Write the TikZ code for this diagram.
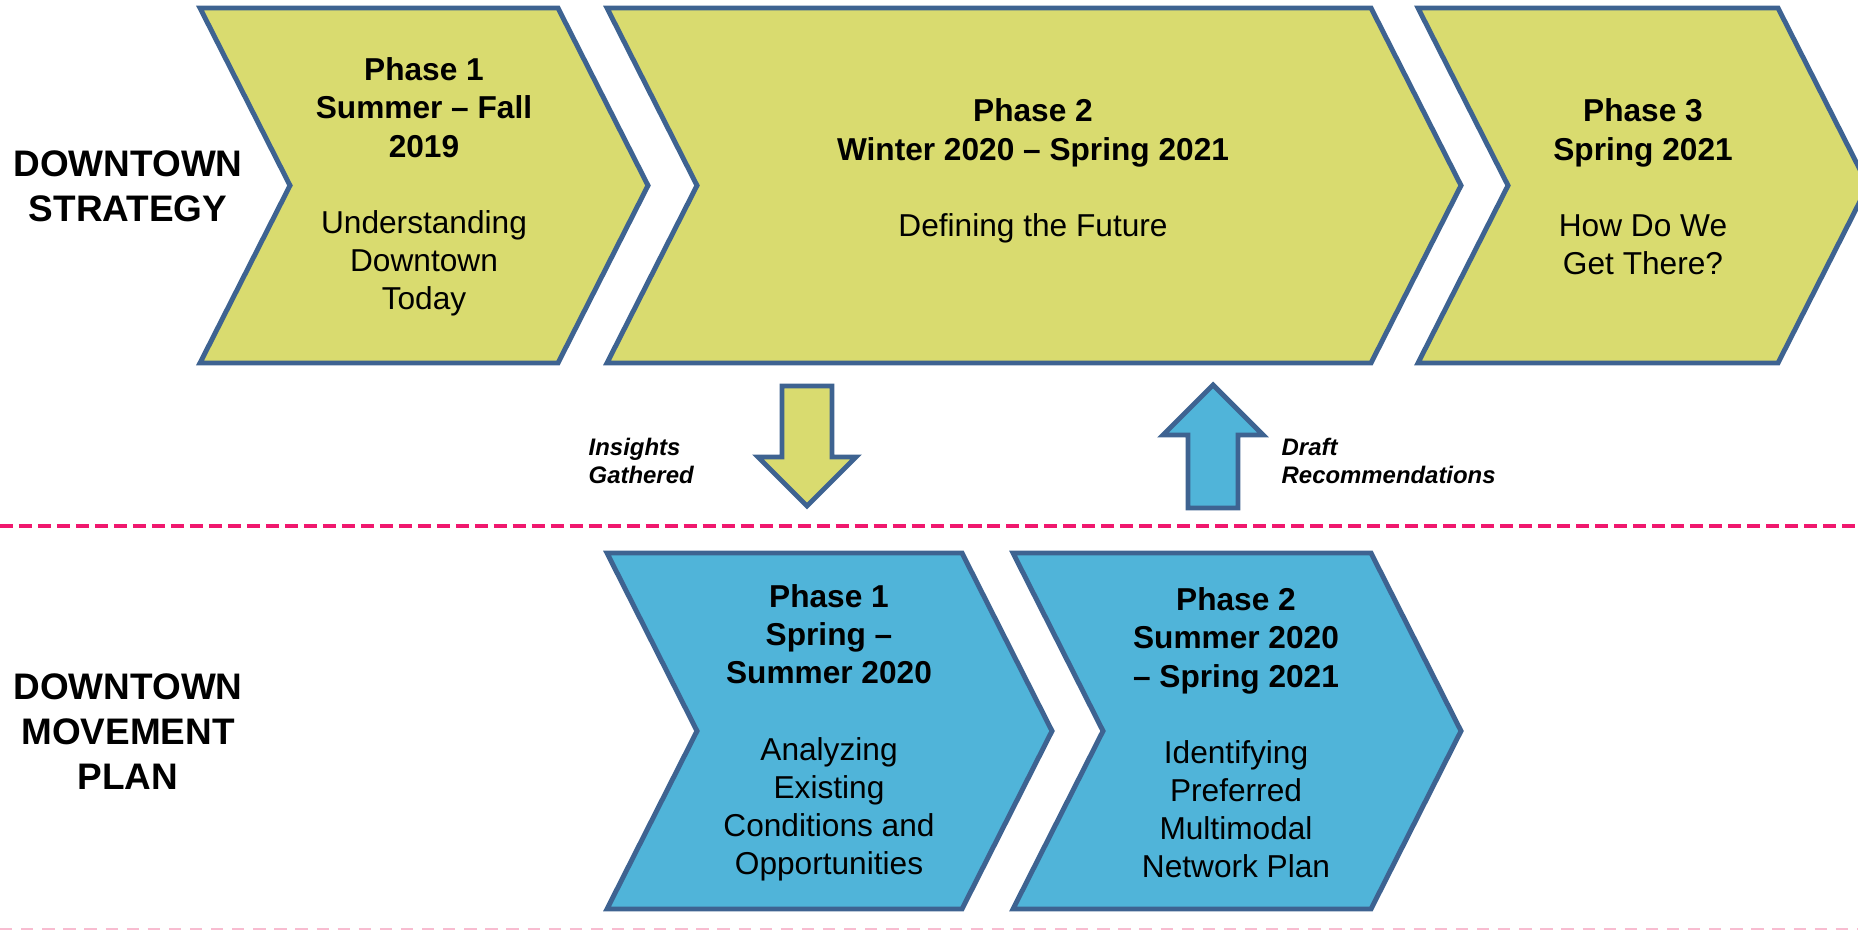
\documentclass[tikz,border=0pt]{standalone}
\usepackage{fontspec}
\setmainfont{Liberation Sans}
\usepackage{tikz}
\usetikzlibrary{positioning}
\definecolor{phasegreen}{HTML}{D9DB6F}
\definecolor{phaseblue}{HTML}{50B4D9}
\definecolor{edgeblue}{HTML}{3E6391}
\definecolor{divider}{HTML}{F0186E}
\definecolor{softpink}{HTML}{F8BCD0}
% chevron: style, left x, top y, top edge length, height
\newcommand{\Chevron}[5]{%
  \draw[#1] (#2,#3) -- ++(#4,0) -- ++(90,-#5/2) -- ++(-90,-#5/2)
    -- ++(-#4,0) -- ++(90,#5/2) -- cycle;}
\newcommand{\gap}{\\[10.85pt]}

\begin{document}
\begin{tikzpicture}[
    x = 0.01cm, y = 0.01cm,
    stage/.style =
    { draw         = edgeblue,
      line width   = 1.4pt,
      line join    = miter },
    strategy/.style =
    { stage,
      fill         = phasegreen },
    movement/.style =
    { stage,
      fill         = phaseblue },
    phase/.style =
    { align        = center,
      inner sep    = 0pt,
      font         = \fontsize{9}{10.85}\selectfont },
    track/.style =
    { align        = center,
      inner sep    = 0pt,
      font         = \fontsize{10.5}{12.8}\selectfont\bfseries },
    handoff/.style =
    { align        = left,
      anchor       = west,
      inner sep    = 0pt,
      font         = \fontsize{6.8}{8.1}\selectfont\bfseries\itshape },
    divline/.style =
    { draw         = divider,
      line width   = 1.1pt,
      dash pattern = on 3.7pt off 1.7pt }
  ]
  \useasboundingbox (0,0) rectangle (1858,930);
  \clip (0,0) rectangle (1858,930);

  % top row
  \Chevron{strategy}{200}{922}{358}{355}
  \Chevron{strategy}{607}{922}{764}{355}
  \Chevron{strategy}{1418}{922}{360}{355}
  % bottom row
  \Chevron{movement}{607}{377}{355}{356}
  \Chevron{movement}{1013}{377}{358}{356}

  \node[phase] (s1) at (424,743)
    {\textbf{Phase 1}\\\textbf{Summer – Fall}\\\textbf{2019}\gap Understanding\\Downtown\\Today};
  \node[phase] (s2) at (1033,759)
    {\textbf{Phase 2}\\\textbf{Winter 2020 – Spring 2021}\gap Defining the Future};
  \node[phase] (s3) at (1643,743)
    {\textbf{Phase 3}\\\textbf{Spring 2021}\gap How Do We\\Get There?};
  \node[phase] (m1) at (829,197)
    {\textbf{Phase 1}\\\textbf{Spring –}\\\textbf{Summer 2020}\gap Analyzing\\Existing\\Conditions and\\Opportunities};
  \node[phase] (m2) at (1236,197)
    {\textbf{Phase 2}\\\textbf{Summer 2020}\\\textbf{– Spring 2021}\gap Identifying\\Preferred\\Multimodal\\Network Plan};

  \node[track] (strat) at (128,744) {DOWNTOWN\\STRATEGY};
  \node[track] (move)  at (128,198) {DOWNTOWN\\MOVEMENT\\PLAN};

  % hand-over arrows
  \draw[strategy] (782,544) -- (832,544) -- (832,473) -- (856,473) -- (807,424)
    -- (758,473) -- (782,473) -- cycle;
  \draw[movement] (1188,422) -- (1238,422) -- (1238,495) -- (1263,495) -- (1213,545)
    -- (1163,495) -- (1188,495) -- cycle;
  \node[handoff] (insights) at (588,469) {Insights\\Gathered};
  \node[handoff] (draft)    at (1281,469) {Draft\\Recommendations};

  % dividers
  \draw[divline] (0,404) -- (1858,404);
  \draw[draw = softpink, line width = 0.5pt, dash pattern = on 3.5pt off 2.5pt]
    (0,1) -- (1858,1);
\end{tikzpicture}
\end{document}
